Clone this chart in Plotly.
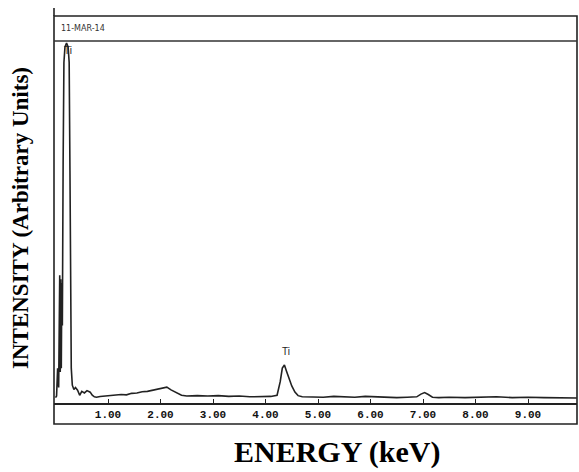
import plotly.graph_objects as go

# Spectrum (energy in keV, intensity in arbitrary units)
energy = [0.00, 0.02, 0.04, 0.06, 0.08, 0.09, 0.10, 0.11, 0.12, 0.13,
          0.145, 0.16, 0.18, 0.21, 0.24, 0.26, 0.275, 0.29, 0.30, 0.32,
          0.35, 0.38, 0.42, 0.46, 0.50, 0.55, 0.60, 0.66, 0.70, 0.74,
          0.78, 0.85, 0.95, 1.05, 1.15, 1.25, 1.35, 1.45, 1.55, 1.65,
          1.75, 1.85, 1.95, 2.05, 2.12, 2.20, 2.30, 2.40, 2.50, 2.70,
          2.90, 3.10, 3.30, 3.50, 3.70, 3.90, 4.10, 4.22, 4.28, 4.32,
          4.36, 4.40, 4.45, 4.50, 4.56, 4.62, 4.70, 4.90, 5.10, 5.30,
          5.50, 5.70, 5.90, 6.10, 6.30, 6.50, 6.70, 6.88, 6.96, 7.03,
          7.10, 7.18, 7.30, 7.50, 7.80, 8.10, 8.40, 8.70, 9.00, 9.30,
          9.60, 9.93]
intensity = [1.4, 1.8, 9.0, 4.0, 33.0, 8.0, 32.0, 9.0, 31.0, 20.0,
             62.0, 88.0, 92.0, 93.0, 92.0, 88.0, 60.0, 25.0, 9.0, 4.6,
             3.5, 4.0, 3.3, 2.0, 3.0, 2.6, 3.2, 2.8, 2.0, 1.6,
             1.5, 1.7, 1.8, 1.9, 2.0, 2.2, 2.1, 2.5, 2.6, 2.9,
             3.0, 3.3, 3.6, 3.9, 4.1, 3.4, 2.6, 2.0, 1.8, 1.9,
             1.8, 1.9, 1.7, 1.8, 1.6, 1.7, 1.7, 2.0, 5.5, 9.0,
             9.8, 8.2, 6.2, 4.4, 2.8, 1.9, 1.6, 1.6, 1.5, 1.7,
             1.6, 1.5, 1.7, 1.6, 1.5, 1.4, 1.5, 1.6, 2.3, 2.7,
             2.2, 1.5, 1.4, 1.5, 1.4, 1.5, 1.6, 1.4, 1.5, 1.4,
             1.3, 1.3]

tick_vals = [1, 2, 3, 4, 5, 6, 7, 8, 9]
tick_text = ["1.00", "2.00", "3.00", "4.00", "5.00", "6.00", "7.00", "8.00", "9.00"]

peak_labels = ["Ti", "Ti"]
peak_x = [0.23, 4.39]
peak_y = [91.0, 11.5]

header_text = "11-MAR-14"
x_title = "ENERGY (keV)"
y_title = "INTENSITY (Arbitrary Units)"

W, H = 579, 472
L, R, T, B = 54, 2, 16, 69
pw, ph = W - L - R, H - T - B

def px(xp):
    return (xp - L) / pw

def py(yp):
    return (H - B - yp) / ph

fig = go.Figure()
fig.add_trace(go.Scatter(x=energy, y=intensity, mode="lines",
                         line=dict(color="#222222", width=1.6),
                         hoverinfo="skip", showlegend=False))

annotations = []
for i, (t, xv, yv) in enumerate(zip(peak_labels, peak_x, peak_y)):
    annotations.append(dict(x=xv, y=yv, xref="x", yref="y", text=t, showarrow=False,
                            font=dict(family="Liberation Sans", size=10, color="#222222"),
                            yanchor="middle" if i == 0 else "bottom"))
annotations.append(dict(x=px(59), y=py(28), xref="paper", yref="paper", text=header_text,
                        showarrow=False, xanchor="left", yanchor="middle",
                        font=dict(family="DejaVu Sans", size=8, color="#333333")))
annotations.append(dict(x=px(337), y=py(452), xref="paper", yref="paper", text="<b>" + x_title + "</b>",
                        showarrow=False, xanchor="center", yanchor="middle",
                        font=dict(family="Liberation Serif", size=30, color="black")))
annotations.append(dict(x=px(20), y=py(218), xref="paper", yref="paper", text="<b>" + y_title + "</b>",
                        showarrow=False, xanchor="center", yanchor="middle", textangle=-90,
                        font=dict(family="Liberation Serif", size=23, color="black")))

shapes = [
    dict(type="rect", xref="paper", yref="paper", x0=0, x1=1, y0=py(424), y1=1,
         line=dict(color="#222222", width=1.6)),
    dict(type="line", xref="paper", yref="paper", x0=0, x1=1, y0=py(41), y1=py(41),
         line=dict(color="#333333", width=1.4)),
    dict(type="line", xref="paper", yref="paper", x0=0, x1=0, y0=1, y1=py(8),
         line=dict(color="#222222", width=1.6)),
]

fig.update_layout(
    width=W, height=H,
    margin=dict(l=L, r=R, t=T, b=B),
    paper_bgcolor="white", plot_bgcolor="white",
    showlegend=False,
    annotations=annotations,
    shapes=shapes,
    xaxis=dict(range=[-0.029, 9.933], tickvals=tick_vals,
               ticktext=["<b>" + s + "</b>" for s in tick_text],
               ticks="inside", ticklen=4, tickwidth=1.4, tickcolor="#222222",
               showline=True, linecolor="#222222", linewidth=1.6,
               showgrid=False, zeroline=False,
               tickfont=dict(family="Liberation Mono", size=11, color="#111111")),
    yaxis=dict(range=[0, 100], showticklabels=False, ticks="", showgrid=False,
               zeroline=False, showline=False),
)

fig.write_html("out.html")
